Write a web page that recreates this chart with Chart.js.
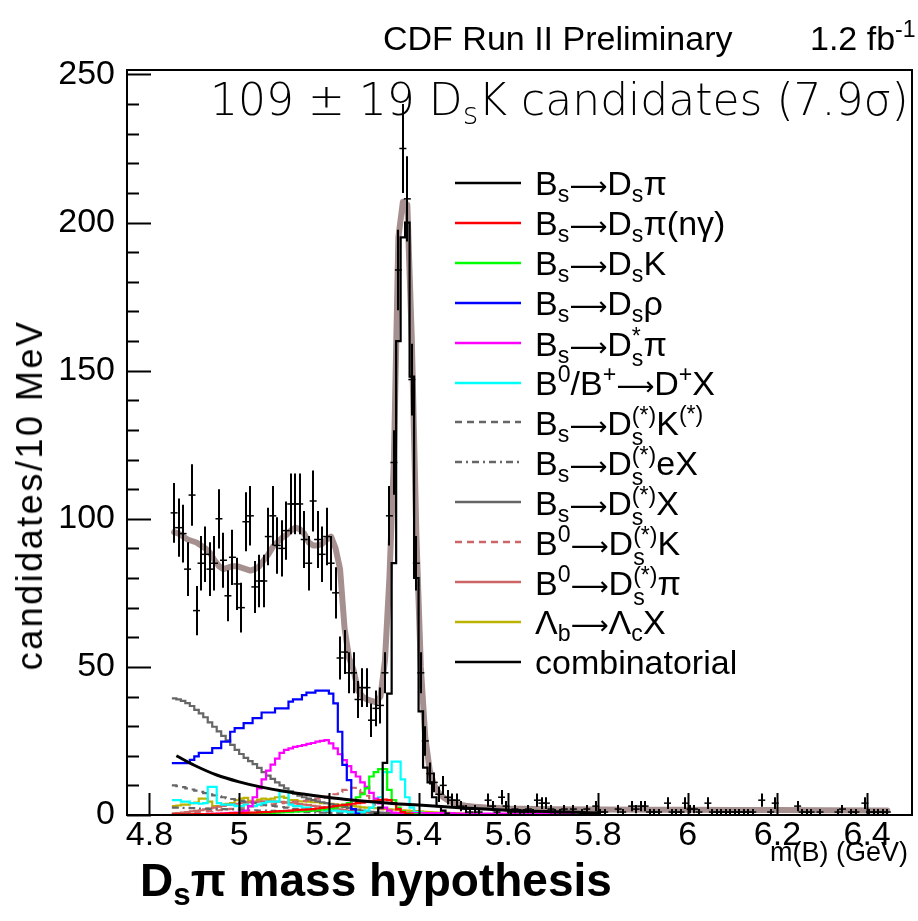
<!DOCTYPE html>
<html lang="en">
<head>
<meta charset="UTF-8">
<title>Ds pi mass hypothesis</title>
<script src="https://cdn.jsdelivr.net/npm/chart.js@4.4.1/dist/chart.umd.min.js"></script>
<style>
    body { margin: 0; background: #fff; }
    #wrap { position: relative; width: 918px; height: 921px; font-family: 'Liberation Sans', Arial, sans-serif; color: #000; }
    #chart { position: absolute; left: 0; top: 0; }
    .txt { position: absolute; white-space: nowrap; line-height: 1; }
    .txt sub, .leg sub { font-size: 0.68em; vertical-align: -0.3em; line-height: 0; }
    .txt sup, .leg sup { font-size: 0.68em; vertical-align: 0.55em; line-height: 0; }
    .st { display: inline-block; font-size: 0.68em; line-height: 0.95; vertical-align: -0.45em; }
    .st span { display: block; }
    .leg { position: absolute; left: 455px; font-size: 34px; line-height: 1; white-space: nowrap; }
    .leg svg { position: absolute; left: 0; top: 14px; }
    .leg span.lab { position: absolute; left: 80px; top: 0; }
    .arr { font-family: 'DejaVu Sans', sans-serif; font-size: 0.78em; }
</style>
</head>
<body>
<div id="wrap">
    <canvas id="chart" width="918" height="921"></canvas>
    <div class="txt" style="left:383px; top:21px; font-size:34px;">CDF Run II Preliminary</div>
    <div class="txt" style="left:810px; top:21px; font-size:34px;">1.2 fb<sup>-1</sup></div>
    <div class="txt" id="title" style="left:210px; top:78px; font-size:44px; font-family:'DejaVu Sans', sans-serif; font-weight:200;">109 ± 19 D<sub>s</sub>K candidates (7.9σ)</div>
    <div class="txt" style="left:30px; top:495px; font-size:36px; letter-spacing:2.5px; transform: translate(-50%, -50%) rotate(-90deg);">candidates/10 MeV</div>
    <div class="txt" style="left:770px; top:839px; font-size:27px;">m(B) (GeV)</div>
    <div class="txt" style="left:140px; top:857px; font-size:46px; font-weight:bold;">D<sub>s</sub>π mass hypothesis</div>
    <div id="legend"></div>
</div>

<script>
// histogram binning: 10 MeV bins from 4.85 GeV
const binStart = 4.85;
const binWidth = 0.01;

// data counts per bin (4.85 - 6.45 GeV)
const dataCounts = [
    102, 97, 95, 83, 108, 69, 85, 88, 83, 85,
    100, 86, 74, 87, 78, 70, 99, 101, 77, 79,
    79, 94, 101, 91, 90, 96, 105, 105, 105, 93,
    85, 106, 93, 88, 94, 85, 75, 53, 55, 48,
    48, 39, 43, 43, 32, 36, 37, 48, 101, 119,
    184, 225, 208, 147, 85, 48, 25, 14, 11, 7,
    10, 6, 5, 5, 3, 2, 1, 2, 1, 0,
    5, 3, 1, 6, 3, 1, 2, 1, 1, 2,
    1, 5, 4, 4, 2, 1, 1, 2, 0, 2,
    0, 1, 2, 0, 3, 1, 1, 0, 0, 2,
    1, 0, 3, 2, 3, 3, 1, 1, 1, 0,
    4, 1, 1, 1, 4, 2, 2, 1, 0, 4,
    1, 1, 1, 1, 1, 1, 1, 1, 1, 1,
    0, 5, 0, 1, 4, 0, 0, 0, 0, 3,
    1, 1, 1, 0, 1, 0, 0, 0, 1, 2,
    0, 1, 1, 0, 4, 1, 1, 1, 1, 1
];

// total fit curve
const fitMass = [
    4.855, 4.865, 4.875, 4.885, 4.895, 4.905, 4.915, 4.925, 4.935, 4.945,
    4.955, 4.965, 4.975, 4.985, 4.995, 5.005, 5.015, 5.025, 5.035, 5.045,
    5.055, 5.065, 5.075, 5.085, 5.095, 5.105, 5.115, 5.125, 5.135, 5.145,
    5.155, 5.165, 5.175, 5.185, 5.195, 5.205, 5.215, 5.225, 5.235, 5.245,
    5.255, 5.265, 5.275, 5.285, 5.295, 5.305, 5.315, 5.325, 5.335, 5.345,
    5.355, 5.365, 5.375, 5.385, 5.395, 5.405, 5.415, 5.425, 5.435, 5.445,
    5.455, 5.465, 5.475, 5.485, 5.495, 5.505, 5.525, 5.55, 5.6, 5.7,
    5.8, 5.9, 6.0, 6.1, 6.2, 6.3, 6.445
];
const fitValues = [
    95.5, 95, 94, 93, 92.5, 92, 91, 90, 88.5, 86,
    84, 83, 83.5, 84, 84, 83.5, 83, 82.5, 83, 84,
    86, 88, 90.5, 92, 93.5, 94.5, 96, 97, 96.5, 95,
    92, 91, 91, 91.5, 93, 94, 90, 83, 63, 53,
    49, 42, 40, 39, 38.5, 38, 40, 52, 80, 120,
    195, 207, 206, 160, 95, 50, 26, 15, 10, 7.5,
    6, 5, 4.3, 3.8, 3.4, 3.1, 2.8, 2.5, 2.2, 1.95,
    1.85, 1.8, 1.75, 1.7, 1.65, 1.6, 1.5
];

// fit components, one value per bin from binStart unless a start is given
const bsDsPiStart = 5.30;
const bsDsPi = [0.5, 2.5, 17.6, 41, 85, 160, 195, 200, 148, 80, 35, 16, 11, 6, 3, 1.5, 0.5];
const bsDsPiGamma = [
    0.2, 0.2, 0.2, 0.2, 0.2, 0.3, 0.3, 0.3, 0.3, 0.4, 0.4, 0.5, 0.5, 0.6, 0.6, 0.7, 0.7, 0.8, 0.8, 0.9,
    1, 1, 1.1, 1.2, 1.3, 1.4, 1.5, 1.6, 1.7, 1.8, 1.9, 2, 2.2, 2.4, 2.6, 2.8, 3, 3.2, 3.4, 3.6,
    3.8, 4, 4.2, 4.4, 4.6, 4.8, 5, 5.2, 5, 4, 2, 1, 0.5, 0.2
];
const bsDsK = [
    0.1, 0.1, 0.1, 0.1, 0.1, 0.1, 0.1, 0.2, 0.2, 0.2, 0.2, 0.2, 0.2, 0.3, 0.3, 0.3, 0.3, 0.4, 0.4, 0.4,
    0.5, 0.6, 0.7, 0.8, 0.9, 1, 1, 1.1, 1.2, 1.3, 1.4, 1.5, 1.6, 1.8, 2,
    2.2, 2.5, 3, 3.5, 4, 5, 6, 7, 9,
    13, 14.5, 15.5, 15.5, 8.5, 5, 2.5, 1.2, 0.6, 0.3, 0.2, 0.1
];
const bsDsRho = [
    17.5, 17.5, 17.5, 17.5, 18.6, 19.8, 21, 21, 21, 22.6, 22.6, 24.8, 24.8, 28.1, 29.3, 29.3, 31, 31, 32.7, 32.7,
    34.6, 34.6, 34.6, 36, 36, 36, 38.3, 39, 39, 40.5, 41.3, 41.3, 42, 42, 42, 41, 37.7, 28.1, 16.9, 11.8,
    2, 0.5
];
const bsDsStarPi = [
    0.1, 0.1, 0.1, 0.2, 0.2, 0.2, 0.3, 0.3, 0.4, 0.4, 0.5, 0.5, 0.6, 0.7, 0.8, 1, 1.5, 3, 6, 9,
    12, 15, 17, 19, 21, 22, 22.5, 23, 23.3, 23.6, 24, 24.3, 24.8, 25, 25.3, 24.2, 22.5, 20.5, 18.5, 16.5,
    14.5, 13, 11, 9.5, 7.5, 5.5, 3.9, 2.5, 1.5, 0.8,
    0.7, 0.7, 0.7, 0.6, 0.6, 0.6, 0.6, 0.6, 0.6, 0.6, 0.6, 0.6, 0.6, 0.5, 0.5, 0.5, 0.5, 0.5, 0.5, 0.5,
    0.5, 0.5, 0.5, 0.5, 0.5, 0.5, 0.5, 0.5, 0.5, 0.5, 0.5, 0.5, 0.5, 0.5, 0.5, 0.5, 0.5, 0.5, 0.5, 0.5
];
const bDplusX = [
    5, 5, 4.5, 4.5, 4, 4, 3.8, 4, 9.5, 9.5, 4, 3.5, 3.5, 3.5, 3, 3, 3.5, 3, 3, 3.5,
    4, 4.5, 4.5, 4.5, 8, 8, 3.5, 3, 3, 2.5, 2.5, 2, 2, 2, 1.5, 1.5, 1.5, 1.2, 1.2, 1,
    1, 1, 1, 1.5, 2.5, 5, 6, 14.5, 14.5, 18, 18, 12, 6, 2.5, 1, 0.8, 0.6, 0.5, 0.5, 0.5,
    0.4, 0.4, 0.3, 0.3, 0.2
];
const bsDsKstar = [
    10, 9.7, 9.4, 9, 8.6, 8.2, 7.8, 7.4, 7, 6.6, 6.3, 6, 5.7, 5.4, 5.1, 4.8, 4.5, 4.2, 4, 3.7,
    3.5, 3.3, 3.1, 2.9, 2.7, 2.5, 2.3, 2.1, 1.9, 1.7, 1.6, 1.4, 1.3, 1.1, 1, 0.9, 0.8, 0.7, 0.6, 0.5,
    0.4, 0.3, 0.2, 0.1
];
const bsDseX = [
    2.5, 2.5, 2.4, 2.4, 2.3, 2.3, 2.2, 2.2, 2.1, 2.1, 2, 2, 1.9, 1.9, 1.8, 1.8, 1.7, 1.6, 1.6, 1.5,
    1.5, 1.4, 1.4, 1.3, 1.3, 1.2, 1.2, 1.1, 1.1, 1, 1, 0.9, 0.9, 0.8, 0.8, 0.7, 0.7, 0.6, 0.6, 0.5,
    0.5, 0.4, 0.4, 0.3, 0.3, 0.2, 0.2, 0.1, 0.1, 0.1
];
const bsDsX = [
    39.4, 39, 38.5, 37.8, 36.8, 35.5, 34.3, 33, 31.3, 29.8, 28.2, 26.7, 25.2, 23.7, 22, 20.6, 19.3, 18.2, 17.2, 15.9,
    14.5, 13.3, 12.2, 11, 10, 9, 8, 7.2, 6.5, 6, 5.5, 5, 4.6, 4.3, 4, 3.7, 3.4, 3, 2.7, 2.4,
    2, 1.8, 1.5, 1.3, 1.1, 1, 0.8, 0.7, 0.6, 0.5, 0.4, 0.4, 0.3, 0.3, 0.2, 0.2, 0.1
];
const b0DsK = [
    0.5, 0.6, 0.7, 0.8, 0.9, 1, 1.1, 1.2, 1.3, 1.5, 1.6, 1.8, 2, 2.1, 2.3, 2.5, 2.7, 2.9, 3, 3.2,
    3.3, 3.5, 3.6, 3.8, 4, 4.2, 4.3, 4.5, 4.6, 4.8, 5, 5.2, 5.5, 5.8, 6.2, 6.5, 7, 7.8, 8.5, 9,
    9.2, 8.5, 7.5, 6.5, 5, 3.5, 2, 1, 0.5, 0.2
];
const b0DsPi = [
    0.5, 0.6, 0.8, 1, 1.2, 1.4, 1.6, 1.9, 2.2, 2.5, 2.8, 3.1, 3.4, 3.6, 3.8, 4, 4.2, 4.3, 4.4, 4.5,
    4.6, 4.6, 4.6, 4.5, 4.4, 4.3, 4.1, 3.9, 3.7, 3.5, 3.3, 3.1, 2.9, 2.7, 2.5, 2.3, 2.1, 1.9, 1.7, 1.5,
    1.3, 1.1, 0.9, 0.8, 0.7, 0.6, 0.5, 0.4, 0.3, 0.2
];
const lambdaB = [
    3, 3.2, 3.5, 3.5, 4, 4.2, 5.5, 5.5, 4.5, 3, 3, 3.5, 3.8, 4, 5, 5.5, 5.8, 4.8, 4.5, 5.2,
    5.5, 5.3, 5.5, 6, 6.2, 5.8, 5, 5, 4.6, 4.6, 4.5, 4.3, 4.3, 4, 4, 3.8, 3.6, 3.4, 3.2, 3,
    3, 2.8, 2.6, 2.5, 2.4, 2.3, 2.2, 2, 1.9, 1.8, 1.7, 1.6, 1.5, 1.4, 1.3, 1.2, 1.1, 1, 0.9, 0.8,
    0.8, 0.7, 0.6, 0.6, 0.5, 0.5, 0.4, 0.4, 0.3, 0.3, 0.3, 0.2, 0.2, 0.2, 0.1, 0.1
];

// combinatorial background (smooth curve)
const combMass = [4.86, 4.90, 4.95, 5.00, 5.05, 5.10, 5.15, 5.20, 5.25, 5.30, 5.35, 5.40, 5.45, 5.50, 5.55, 5.60, 5.65, 5.70, 5.75, 5.80];
const combValues = [20, 16.8, 13.5, 11.2, 9.4, 8.0, 6.9, 5.9, 5.1, 4.4, 3.8, 3.4, 2.9, 2.4, 2.0, 1.6, 1.3, 1.1, 0.9, 0.7];

// axes
const xTicks = [4.8, 5.0, 5.2, 5.4, 5.6, 5.8, 6.0, 6.2, 6.4];
const yTicks = [0, 50, 100, 150, 200, 250];

const GRAY = '#666666';
const ROSY = '#cc6666';
const ARROW = '<span class="arr">⟶</span>';
const DSSTAR = 'D<span class="st"><span>(*)</span><span>s</span></span>';

// legend entries: label html, colour, dash, values, start
const components = [
    { label: 'B<sub>s</sub>' + ARROW + 'D<sub>s</sub>π', color: '#000000', dash: [], values: bsDsPi, start: bsDsPiStart },
    { label: 'B<sub>s</sub>' + ARROW + 'D<sub>s</sub>π(nγ)', color: '#ff0000', dash: [], values: bsDsPiGamma },
    { label: 'B<sub>s</sub>' + ARROW + 'D<sub>s</sub>K', color: '#00ff00', dash: [], values: bsDsK },
    { label: 'B<sub>s</sub>' + ARROW + 'D<sub>s</sub>ρ', color: '#0000ff', dash: [], values: bsDsRho },
    { label: 'B<sub>s</sub>' + ARROW + 'D<span class="st"><span>*</span><span>s</span></span>π', color: '#ff00ff', dash: [], values: bsDsStarPi },
    { label: 'B<sup>0</sup>/B<sup>+</sup>' + ARROW + 'D<sup>+</sup>X', color: '#00ffff', dash: [], values: bDplusX },
    { label: 'B<sub>s</sub>' + ARROW + DSSTAR + 'K<sup>(*)</sup>', color: GRAY, dash: [7, 5], values: bsDsKstar },
    { label: 'B<sub>s</sub>' + ARROW + DSSTAR + 'eX', color: GRAY, dash: [7, 4, 2, 4], values: bsDseX },
    { label: 'B<sub>s</sub>' + ARROW + DSSTAR + 'X', color: GRAY, dash: [], values: bsDsX },
    { label: 'B<sup>0</sup>' + ARROW + DSSTAR + 'K', color: ROSY, dash: [7, 5], values: b0DsK },
    { label: 'B<sup>0</sup>' + ARROW + DSSTAR + 'π', color: ROSY, dash: [], values: b0DsPi },
    { label: 'Λ<sub>b</sub>' + ARROW + 'Λ<sub>c</sub>X', color: '#bbb300', dash: [], values: lambdaB },
    { label: 'combinatorial', color: '#000000', dash: [], comb: true }
];

function histPoints(start, vals) {
    const pts = vals.map((v, i) => ({ x: start + i * binWidth, y: v }));
    pts.push({ x: start + vals.length * binWidth, y: vals[vals.length - 1] });
    return pts;
}

const datasets = [];
datasets.push({
    label: 'data',
    data: dataCounts.map((n, i) => ({ x: binStart + (i + 0.5) * binWidth, y: n > 0 ? n : null })),
    showLine: false,
    pointStyle: 'line',
    pointRadius: 3.5,
    pointBorderWidth: 1.5,
    pointBorderColor: '#000',
    borderColor: '#000'
});
datasets.push({
    label: 'combinatorial',
    data: combMass.map((m, i) => ({ x: m, y: combValues[i] })),
    borderColor: '#000',
    borderWidth: 3,
    cubicInterpolationMode: 'monotone',
    pointRadius: 0
});
components.filter(c => !c.comb).forEach(c => {
    datasets.push({
        label: c.label,
        data: histPoints(c.start !== undefined ? c.start : binStart, c.values),
        borderColor: c.color,
        borderWidth: 2.2,
        borderDash: c.dash,
        stepped: true,
        pointRadius: 0
    });
});
datasets.push({
    label: 'fit',
    data: fitMass.map((m, i) => ({ x: m, y: fitValues[i] })),
    borderColor: '#a68f8f',
    borderWidth: 6,
    borderJoinStyle: 'round',
    borderCapStyle: 'round',
    pointRadius: 0
});

// error bars, inside ticks and frame, drawn through the chart scales
const hepPlugin = {
    id: 'hep',
    afterDatasetsDraw(chart) {
        const { ctx, chartArea: a, scales: { x, y } } = chart;
        ctx.save();
        ctx.beginPath();
        ctx.rect(a.left, a.top, a.width, a.height);
        ctx.clip();
        ctx.strokeStyle = '#000';
        ctx.lineWidth = 2;
        dataCounts.forEach((n, i) => {
            if (n <= 0) return;
            const px = Math.round(x.getPixelForValue(binStart + (i + 0.5) * binWidth));
            const err = Math.sqrt(n);
            ctx.beginPath();
            ctx.moveTo(px, y.getPixelForValue(n - err));
            ctx.lineTo(px, y.getPixelForValue(n + err));
            ctx.stroke();
        });
        ctx.restore();

        ctx.save();
        ctx.strokeStyle = '#000';
        ctx.lineWidth = 2;
        // y ticks: major every 50, minor every 10
        for (let v = 0; v <= y.max; v += 10) {
            const py = Math.round(y.getPixelForValue(v)) + 0.5;
            const len = v % 50 === 0 ? 24 : 12;
            ctx.beginPath();
            ctx.moveTo(a.left, py);
            ctx.lineTo(a.left + len, py);
            ctx.stroke();
        }
        xTicks.forEach(v => {
            const px = Math.round(x.getPixelForValue(v)) + 0.5;
            ctx.beginPath();
            ctx.moveTo(px, a.bottom);
            ctx.lineTo(px, a.bottom - 22);
            ctx.stroke();
        });
        ctx.strokeRect(a.left, a.top, a.width, a.height);
        ctx.restore();
    }
};

new Chart(document.getElementById('chart'), {
    type: 'line',
    data: { datasets: datasets },
    options: {
        responsive: false,
        animation: false,
        layout: { padding: { left: 0, top: 70, right: 6, bottom: 0 } },
        plugins: { legend: { display: false }, tooltip: { enabled: false } },
        scales: {
            x: {
                type: 'linear',
                min: 4.75,
                max: 6.5,
                grid: { display: false },
                border: { display: false },
                afterBuildTicks: s => { s.ticks = xTicks.map(v => ({ value: v })); },
                afterFit: s => { s.height = 106; },
                ticks: {
                    autoSkip: false,
                    maxRotation: 0,
                    padding: -8,
                    color: '#000',
                    font: { family: 'Liberation Sans', size: 34 },
                    callback: v => String(+v.toFixed(1))
                }
            },
            y: {
                min: 0,
                max: 251.5,
                grid: { display: false },
                border: { display: false },
                afterBuildTicks: s => { s.ticks = yTicks.map(v => ({ value: v })); },
                afterFit: s => { s.width = 127; },
                ticks: {
                    padding: 4,
                    color: '#000',
                    font: { family: 'Liberation Sans', size: 34 }
                }
            }
        }
    },
    plugins: [hepPlugin]
});

// legend
const legend = document.getElementById('legend');
components.forEach((c, i) => {
    const row = document.createElement('div');
    row.className = 'leg';
    row.style.top = (166 + i * 39.9) + 'px';
    const dash = c.dash.length ? ` stroke-dasharray="${c.dash.join(',')}"` : '';
    row.innerHTML = `<svg width="66" height="6"><line x1="0" y1="3" x2="66" y2="3" stroke="${c.color}" stroke-width="2.5"${dash}/></svg>` +
        `<span class="lab">${c.label}</span>`;
    legend.appendChild(row);
});
</script>
</body>
</html>
